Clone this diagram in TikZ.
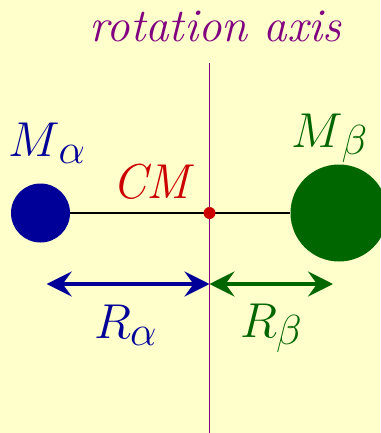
\RequirePackage{fix-cm}
\documentclass[tikz,border=0pt]{standalone}
\usepackage{tikz}
\usetikzlibrary{arrows.meta,positioning}
\definecolor{bgyellow}{HTML}{FFFFCC}
\definecolor{axispurple}{HTML}{800080}
\definecolor{massblue}{HTML}{000099}
\definecolor{massgreen}{HTML}{006600}
\definecolor{cmred}{HTML}{CC0000}
\newcommand{\subsym}[2]{$#1$\kern-1pt\raisebox{-7pt}{\fontsize{42}{42}\selectfont$#2$}}
\tikzset{
  mass/.style={circle, inner sep=0pt, draw=none},
  lbl/.style={inner sep=0pt, font=\fontsize{49}{58}\selectfont\itshape},
  dist/.style={line width=3.5pt, {Stealth[length=25pt,width=25pt,inset=9pt]}-{Stealth[length=25pt,width=25pt,inset=9pt]}},
}

\begin{document}
\begin{tikzpicture}[x=1pt,y=-1pt]
  \fill[bgyellow] (0,0) rectangle (380,433);
  \useasboundingbox (0,0) rectangle (380,433);
  % masses and axis
  \node[mass,fill=massblue,minimum size=59pt] (ma) at (40.5,213) {};
  \node[mass,fill=massgreen,minimum size=97pt] (mb) at (339,213) {};
  \coordinate (axtop) at (209.5,63);
  \coordinate (axbot) at (209.5,433);
  % distances
  \coordinate (ra) at (46.7,284);
  \coordinate (rmid) at (209.5,284);
  \coordinate (rb) at (333,284);
  \draw[dist,massblue] (ra) -- (rmid);
  \draw[dist,massgreen] (rmid) -- (rb);
  \draw[axispurple,line width=1.4pt] (axtop) -- (axbot);
  \draw[black,line width=2pt] (ma) -- (mb);
  \node[mass,fill=cmred,minimum size=12pt] (cm) at (209.5,213) {};
  % labels
  \node[lbl,text=axispurple,anchor=base,font=\fontsize{47}{56}\selectfont\itshape] (title) at (215.5,41.5) {rotation axis};
  \node[lbl,text=cmred,anchor=base west] (cmlbl) at (112,198) {CM};
  \node[lbl,text=massblue,anchor=base west] (malbl) at (8,156.5) {\subsym{M}{\alpha}};
  \node[lbl,text=massgreen,anchor=base west] (mblbl) at (291,147) {\subsym{M}{\beta}};
  \node[lbl,text=massblue,anchor=base west] (ralbl) at (94,338) {\subsym{R}{\alpha}};
  \node[lbl,text=massgreen,anchor=base west] (rblbl) at (240,337) {\subsym{R}{\beta}};
\end{tikzpicture}
\end{document}
